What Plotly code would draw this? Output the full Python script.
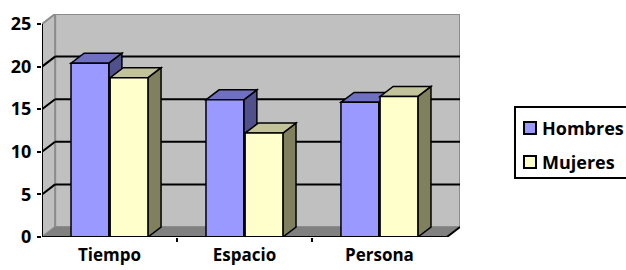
import plotly.graph_objects as go

categories = ["Tiempo", "Espacio", "Persona"]
hombres = [20.4, 16.1, 15.8]
mujeres = [18.7, 12.2, 16.5]
series_names = ["Hombres", "Mujeres"]
y_ticks = [0, 5, 10, 15, 20, 25]

W, H = 626, 270
ML, MR, MT, MB = 42, 166, 14, 33
DX, DY = 0.097, 1.17          # 3-D depth offset in data units
BW = 0.28
OFFS = [-0.285, 0.005]
FRONT = ["#9999ff", "#ffffcc"]
TOP = ["#7070c0", "#c2c29b"]
SIDE = ["#50508c", "#80805f"]
FONT = "Open Sans"

xs = list(range(len(categories)))
series = [hombres, mujeres]
x_lo, x_hi = -0.5, len(categories) - 0.5
y_top = max(y_ticks)


def path(pts):
    return "M" + " L".join(f"{x},{y}" for x, y in pts) + " Z"


shapes = []
# back wall
shapes.append(dict(type="path", path=path([(x_lo + DX, DY), (x_hi + DX, DY), (x_hi + DX, y_top + DY), (x_lo + DX, y_top + DY)]),
                   fillcolor="#c0c0c0", line=dict(color="#8c8c8c", width=2), layer="below"))
# left wall
shapes.append(dict(type="path", path=path([(x_lo, 0), (x_lo + DX, DY), (x_lo + DX, y_top + DY), (x_lo, y_top)]),
                   fillcolor="#c0c0c0", line=dict(color="#8c8c8c", width=2), layer="below"))
# floor
shapes.append(dict(type="path", path=path([(x_lo, 0), (x_hi, 0), (x_hi + DX, DY), (x_lo + DX, DY)]),
                   fillcolor="#808080", line=dict(width=0), layer="below"))
shapes.append(dict(type="line", x0=x_hi, y0=0, x1=x_hi + DX, y1=DY, line=dict(color="black", width=2), layer="below"))
# gridlines
for v in y_ticks[1:-1]:
    shapes.append(dict(type="line", x0=x_lo + DX, y0=v + DY, x1=x_hi + DX, y1=v + DY,
                       line=dict(color="black", width=2), layer="below"))
    shapes.append(dict(type="line", x0=x_lo, y0=v, x1=x_lo + DX, y1=v + DY,
                       line=dict(color="black", width=2), layer="below"))
# bar sides and tops
for ci in xs:
    for si, vals in enumerate(series):
        v = vals[ci]
        x0 = ci + OFFS[si]
        x1 = x0 + BW
        shapes.append(dict(type="path", path=path([(x1, 0), (x1 + DX, DY), (x1 + DX, v + DY), (x1, v)]),
                           fillcolor=SIDE[si], line=dict(color="black", width=1.5), layer="below"))
        shapes.append(dict(type="path", path=path([(x0, v), (x1, v), (x1 + DX, v + DY), (x0 + DX, v + DY)]),
                           fillcolor=TOP[si], line=dict(color="black", width=1.5), layer="below"))
# front axis lines
shapes.append(dict(type="line", x0=x_lo, y0=0, x1=x_lo, y1=y_top, line=dict(color="black", width=2), layer="above"))
shapes.append(dict(type="line", x0=x_lo, y0=0, x1=x_hi, y1=0, line=dict(color="black", width=2), layer="above"))

fig = go.Figure()
for si, vals in enumerate(series):
    fig.add_trace(go.Bar(x=xs, y=vals, width=BW, offset=OFFS[si], name=series_names[si],
                         marker=dict(color=FRONT[si], line=dict(color="black", width=1.5)),
                         showlegend=False, hoverinfo="skip"))

# manual legend (paper coordinates)
pw, ph = W - ML - MR, H - MT - MB
def px(p):
    return (p - ML) / pw
def py(p):
    return (H - MB - p) / ph

shapes.append(dict(type="rect", xref="paper", yref="paper", x0=px(515), x1=px(640), y0=py(178), y1=py(107),
                   line=dict(color="black", width=2), fillcolor="white"))
annotations = []
for si, name in enumerate(series_names):
    cy = 128 + si * 34
    shapes.append(dict(type="rect", xref="paper", yref="paper", x0=px(524), x1=px(536), y0=py(cy + 6), y1=py(cy - 6),
                       line=dict(color="black", width=2), fillcolor=FRONT[si]))
    annotations.append(dict(xref="paper", yref="paper", x=px(540), y=py(cy), text=f"<b>{name}</b>",
                            showarrow=False, xanchor="left", yanchor="middle",
                            font=dict(family=FONT, size=18, color="black")))

fig.update_layout(
    width=W, height=H,
    margin=dict(l=ML, r=MR, t=MT, b=MB, autoexpand=False),
    paper_bgcolor="white", plot_bgcolor="rgba(0,0,0,0)",
    showlegend=False,
    shapes=shapes, annotations=annotations,
    font=dict(family=FONT, size=17, color="black"),
    xaxis=dict(range=[x_lo, x_hi + DX], tickmode="array", tickvals=xs,
               ticktext=[f"<b>{c}</b>" for c in categories],
               showgrid=False, zeroline=False, showline=False, ticks="",
               ticklabelstandoff=6, tickfont=dict(size=17), fixedrange=True,
               minor=dict(tickmode="array", tickvals=[0.5, 1.5], ticks="outside", ticklen=4,
                          tickwidth=2, tickcolor="black", showgrid=False)),
    yaxis=dict(range=[0, y_top + DY], tickmode="array", tickvals=y_ticks,
               ticktext=[f"<b>{t}</b>" for t in y_ticks],
               showgrid=False, zeroline=False, showline=False, ticks="outside",
               ticklen=4, tickwidth=2, tickcolor="black", ticklabelstandoff=2,
               tickfont=dict(size=18), fixedrange=True),
)

fig.write_html("out.html", config={"displayModeBar": False},
               post_script="document.body.style.margin='0';document.body.style.overflow='hidden';")
